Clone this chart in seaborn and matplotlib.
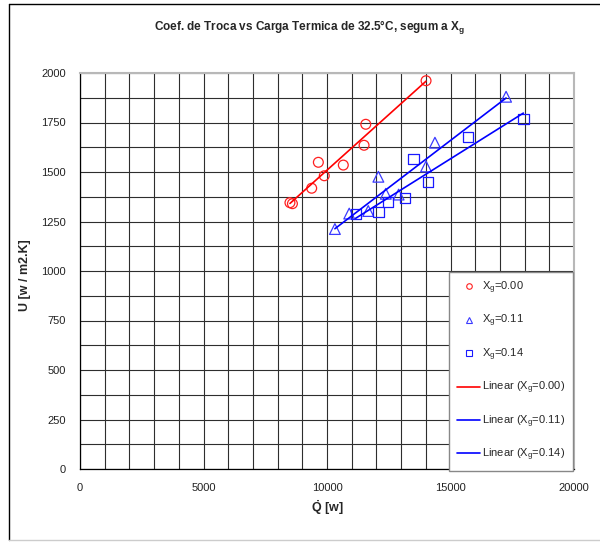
import numpy as np
import pandas as pd
import matplotlib
matplotlib.use('Agg')
import matplotlib.pyplot as plt
from matplotlib.lines import Line2D
import seaborn as sns

# dados
q_000 = [8500, 8600, 9380, 9650, 9890, 10660, 11500, 11570, 14010]
u_000 = [1345, 1340, 1418, 1549, 1481, 1535, 1635, 1741, 1961]

q_011 = [10320, 10900, 11670, 12080, 12380, 12900, 14010, 14370, 17250]
u_011 = [1212, 1290, 1303, 1476, 1390, 1386, 1528, 1648, 1880]

q_014 = [11160, 12080, 12480, 13160, 13500, 14100, 15700, 17950]
u_014 = [1288, 1298, 1350, 1368, 1565, 1448, 1678, 1766]

x_ticks = [0, 5000, 10000, 15000, 20000]
y_ticks = [0, 250, 500, 750, 1000, 1250, 1500, 1750, 2000]

sns.set_style("white")
plt.rcParams['font.family'] = ['Liberation Sans', 'DejaVu Sans']
plt.rcParams['mathtext.fontset'] = 'custom'
plt.rcParams['mathtext.rm'] = 'Liberation Sans'
plt.rcParams['mathtext.bf'] = 'Liberation Sans:bold'
plt.rcParams['mathtext.it'] = 'Liberation Sans'

df0 = pd.DataFrame({'Q': q_000, 'U': u_000})
df1 = pd.DataFrame({'Q': q_011, 'U': u_011})
df2 = pd.DataFrame({'Q': q_014, 'U': u_014})

fig = plt.figure(figsize=(6, 5.42), dpi=100)
ax = fig.add_axes([80 / 600, 1 - 469 / 542, 494 / 600, 396 / 542])

# grade
ax.set_xlim(0, 20000)
ax.set_ylim(0, 2000)
ax.set_xticks(x_ticks)
ax.set_yticks(y_ticks)
ax.set_xticks(np.arange(0, 20001, 1000), minor=True)
ax.set_yticks(np.arange(0, 2001, 125), minor=True)
ax.grid(True, which='both', color='#2e2e2e', linewidth=0.8)
ax.set_axisbelow(True)
ax.tick_params(which='major', direction='out', length=4, width=0.8,
               color='black', labelsize=8, labelcolor='#222222', pad=6)
ax.tick_params(which='minor', length=0)
for s in ['top', 'right']:
    ax.spines[s].set_color('#b8b8b8')
    ax.spines[s].set_linewidth(1.5)
for s in ['left', 'bottom']:
    ax.spines[s].set_color('black')
    ax.spines[s].set_linewidth(0.9)

# pontos
sns.scatterplot(data=df0, x='Q', y='U', ax=ax, marker='o', s=50,
                facecolors='none', edgecolor='#ff2020', linewidth=0.9, zorder=3)
sns.scatterplot(data=df1, x='Q', y='U', ax=ax, marker='^', s=60,
                facecolors='none', edgecolor='#3a3aff', linewidth=0.9, zorder=3)
sns.scatterplot(data=df2, x='Q', y='U', ax=ax, marker='s', s=55,
                facecolors='none', edgecolor='#1a1aff', linewidth=0.9, zorder=3)

# linhas de tendencia
sns.regplot(data=df0, x='Q', y='U', ax=ax, scatter=False, ci=None,
            line_kws={'color': '#ff0000', 'linewidth': 1.2, 'zorder': 4})
sns.regplot(data=df1, x='Q', y='U', ax=ax, scatter=False, ci=None,
            line_kws={'color': '#0000ff', 'linewidth': 1.2, 'zorder': 4})
sns.regplot(data=df2, x='Q', y='U', ax=ax, scatter=False, ci=None,
            line_kws={'color': '#0000ff', 'linewidth': 1.2, 'zorder': 4})

ax.set_xlim(0, 20000)
ax.set_ylim(0, 2000)

ax.set_xlabel(r'$\mathbf{\dot{Q}}$ [w]', fontsize=9, fontweight='bold')
ax.set_ylabel('U [w / m2.K]', fontsize=9, fontweight='bold')
ax.xaxis.set_label_coords(0.50, -0.075)
ax.yaxis.set_label_coords(-0.10, 0.49)

fig.text(310 / 600, 1 - 28 / 542,
         r'Coef. de Troca vs Carga Termica de 32.5°C, segum a X$_\mathbf{g}$',
         ha='center', va='center', fontsize=8.5, fontweight='bold')

# legenda
handles = [
    Line2D([], [], linestyle='none', marker='o', markersize=4, markerfacecolor='none',
           markeredgecolor='#ff2020', markeredgewidth=0.8),
    Line2D([], [], linestyle='none', marker='^', markersize=4, markerfacecolor='none',
           markeredgecolor='#3a3aff', markeredgewidth=0.8),
    Line2D([], [], linestyle='none', marker='s', markersize=4, markerfacecolor='none',
           markeredgecolor='#1a1aff', markeredgewidth=0.8),
    Line2D([], [], color='#ff0000', linewidth=1.2),
    Line2D([], [], color='#0000ff', linewidth=1.2),
    Line2D([], [], color='#0000ff', linewidth=1.2),
]
labels = [r'X$_\mathregular{g}$=0.00', r'X$_\mathregular{g}$=0.11', r'X$_\mathregular{g}$=0.14',
          r'Linear (X$_\mathregular{g}$=0.00)', r'Linear (X$_\mathregular{g}$=0.11)',
          r'Linear (X$_\mathregular{g}$=0.14)']
leg = ax.legend(handles, labels, loc='lower right', bbox_to_anchor=(0.997, -0.004),
                borderaxespad=0, fontsize=8, labelspacing=1.53, handlelength=2.1,
                handletextpad=0.15, borderpad=0.68, frameon=True, fancybox=False,
                framealpha=1, edgecolor='#888888')
leg.get_frame().set_linewidth(1.0)
leg.set_zorder(10)

# moldura da figura
fig.add_artist(Line2D([9 / 600, 9 / 600], [1 - 4 / 542, 1 - 540 / 542],
                      transform=fig.transFigure, color='black', linewidth=1))
fig.add_artist(Line2D([9 / 600, 1], [1 - 4 / 542, 1 - 4 / 542],
                      transform=fig.transFigure, color='black', linewidth=1))
fig.add_artist(Line2D([9 / 600, 1], [1 - 540 / 542, 1 - 540 / 542],
                      transform=fig.transFigure, color='#cccccc', linewidth=1))

fig.savefig('out.png', dpi=100)
